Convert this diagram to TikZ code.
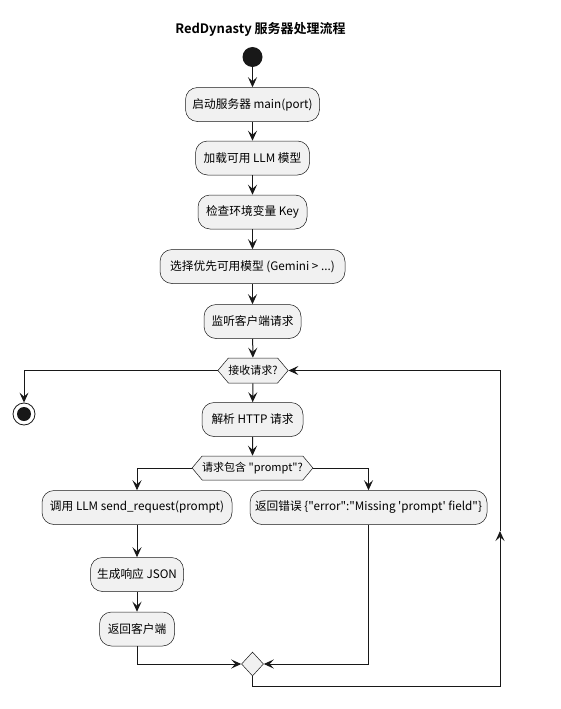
\documentclass[tikz,border=0pt]{standalone}
\usepackage{fontspec}
\newfontfamily\cjk{Noto Sans CJK SC}[BoldFont=* Bold]
\usepackage{tikz}
\usetikzlibrary{shapes.geometric}
\usetikzlibrary{shapes.symbols}
\usetikzlibrary{arrows.meta}

\definecolor{umlline}{HTML}{181818}
\definecolor{umlfill}{HTML}{F1F1F1}

\tikzset{
  activity/.style={draw=umlline,
    fill=umlfill,
    line width=0.5pt,
    rounded corners=12pt,
    minimum height=34pt,
    inner sep=0pt,
    font=\cjk\fontsize{11.7}{13}\selectfont},
  branch/.style={draw=umlline,
    fill=umlfill,
    line width=0.5pt,
    signal,
    signal to=west and east,
    signal pointer angle=100,
    inner sep=0pt,
    font=\cjk\fontsize{11}{13}\selectfont},
  link/.style={draw=umlline,
    line width=1pt,
    -{Stealth[length=10pt,width=9pt,inset=4pt]}}
}

\begin{document}
\begin{tikzpicture}[x=1pt,y=-1pt]
  \useasboundingbox (0,0) rectangle (560,709);
  \node[font=\cjk\bfseries\fontsize{13}{15}\selectfont] (title) at (260.5,29) {RedDynasty 服务器处理流程};
  \node[circle,
    fill=umlline,
    minimum size=20pt,
    inner sep=0pt] (start) at (252.5,57) {};
  \node[activity, minimum width=134pt] (boot) at (252.5,104.5) {启动服务器 main(port)};
  \node[activity, minimum width=114pt] (load) at (252.5,158) {加载可用 LLM 模型};
  \node[activity, minimum width=109pt] (envkey) at (252.5,212) {检查环境变量 Key};
  \node[activity, minimum width=185pt] (pick) at (252.5,266.5) {选择优先可用模型 (Gemini > ...)};
  \node[activity, minimum width=97pt] (listen) at (252.5,321.5) {监听客户端请求};
  \node[branch,
    minimum width=68pt,
    minimum height=25pt] (accept) at (253,370.5) {接收请求?};
  \node[circle,
    draw=umlline,
    line width=0.8pt,
    minimum size=22pt,
    inner sep=0pt] (stop) at (24,414) {};
  \fill[umlline] (stop) circle[radius=7pt];
  \node[activity, minimum width=101pt] (parse) at (252.5,419.5) {解析 HTTP 请求};
  \node[branch,
    minimum width=115pt,
    minimum height=24pt] (haspr) at (252.5,468) {请求包含 "prompt"?};
  \node[activity, minimum width=190pt] (call) at (137,507.5) {调用 LLM send\_request(prompt)};
  \node[activity, minimum width=237pt] (error) at (368.5,507.5) {返回错误 \{"error":"Missing 'prompt' field"\}};
  \node[activity, minimum width=93pt] (json) at (137,574.5) {生成响应 JSON};
  \node[activity, minimum width=75pt] (reply) at (137,629) {返回客户端};
  \node[draw=umlline,
    fill=umlfill,
    line width=0.5pt,
    diamond,
    inner sep=0pt,
    minimum width=22pt,
    minimum height=24pt] (merge) at (252.5,664) {};
  \coordinate (loop) at (500,686);
  \coordinate (loopmid) at (500,531);
  \coordinate (looptop) at (500,370.5);
  \foreach \a/\b in {start/boot,boot/load,load/envkey,envkey/pick,pick/listen,
      listen/accept,accept/parse,parse/haspr,call/json,json/reply}
    \draw[link] (\a) -- (\b);
  \draw[link] (accept.west) -| (stop);
  \draw[link] (haspr.west) -| (call);
  \draw[link] (haspr.east) -| (error);
  \draw[link] (reply) |- (merge.west);
  \draw[link] (error) |- (merge.east);
  \draw[link] (merge.south) |- (loop) -- (loopmid);
  \draw[link] (loopmid) -- (looptop) -- (accept.east);
\end{tikzpicture}
\end{document}
